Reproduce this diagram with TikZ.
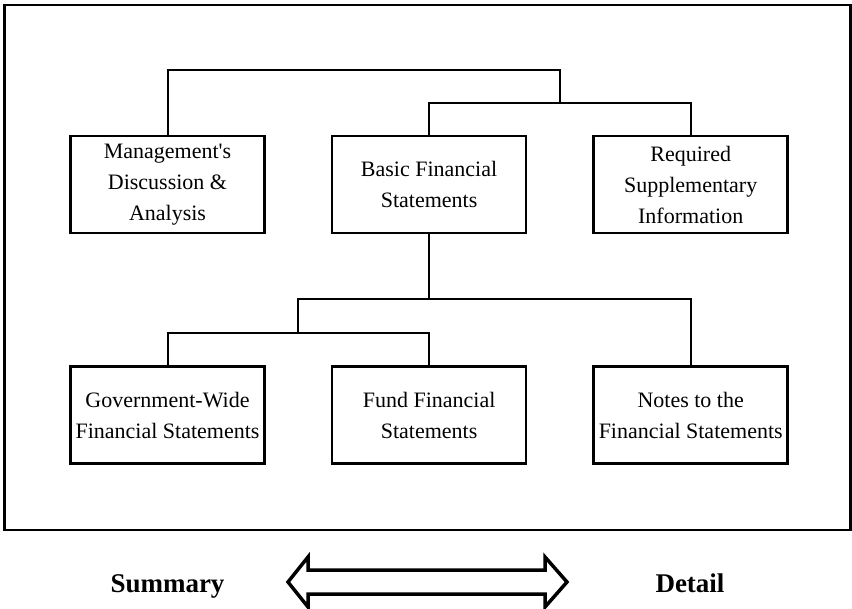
\documentclass[tikz,border=0pt]{standalone}
\usepackage{fontspec}
\setmainfont{Liberation Serif}
\usepackage{tikz}
\usetikzlibrary{shapes, arrows, positioning, chains}

\begin{document}
\begin{tikzpicture}[start chain=upper going right, start chain=lower going right, node distance=65pt,
		box/.style={draw, line width=2.6pt, minimum width=194pt, minimum height=97pt, inner sep=0pt, align=center, font=\fontsize{22}{31}\selectfont},
		link/.style={line width=2pt},
		endlabel/.style={anchor=base, font=\fontsize{27}{30}\selectfont\bfseries}]
			\useasboundingbox (0,0) rectangle (852pt,-609pt);
			\draw[line width=2.5pt] (4.5pt,-5pt) rectangle (850.5pt,-530pt);
			% upper row
			\node[box, on chain=upper] (mda) at (167.5pt,-184.5pt) {Management\textquotesingle s\\Discussion \&\\Analysis};
			\node[box, on chain=upper] (bfs) {Basic Financial\\Statements};
			\node[box, on chain=upper] (rsi) {Required\\Supplementary\\Information};
			% lower row
			\node[box, on chain=lower, below=131pt of mda] (gw) {Government-Wide\\Financial Statements};
			\node[box, on chain=lower] (fund) {Fund Financial\\Statements};
			\node[box, on chain=lower] (notes) {Notes to the\\Financial Statements};
			% connectors
			\coordinate (upper) at (560pt,-70pt);
			\coordinate (mid) at (560pt,-103pt);
			\coordinate (split) at ([yshift=-65pt]bfs.south);
			\coordinate (fork) at (298pt,-333pt);
			\draw[link] (mda.north) |- (upper) -- (mid);
			\draw[link] (bfs.north) |- (mid) -| (rsi.north);
			\draw[link] (bfs.south) -- (split) -| (notes.north);
			\draw[link] (split) -| (fork);
			\draw[link] (gw.north) |- (fork) -| (fund.north);
			% summary <-> detail
			\draw[line width=3.5pt] (288pt,-582pt) -- (308pt,-557pt) -- (308pt,-570pt) -- (545pt,-570pt) -- (545pt,-557pt)
				-- (567pt,-582pt) -- (545pt,-607pt) -- (545pt,-594pt) -- (308pt,-594pt) -- (308pt,-607pt) -- cycle;
			\node[endlabel] (summary) at (167.5pt,-592pt) {Summary};
			\node[endlabel] (detail) at (690pt,-592pt) {Detail};
		\end{tikzpicture}
\end{document}
